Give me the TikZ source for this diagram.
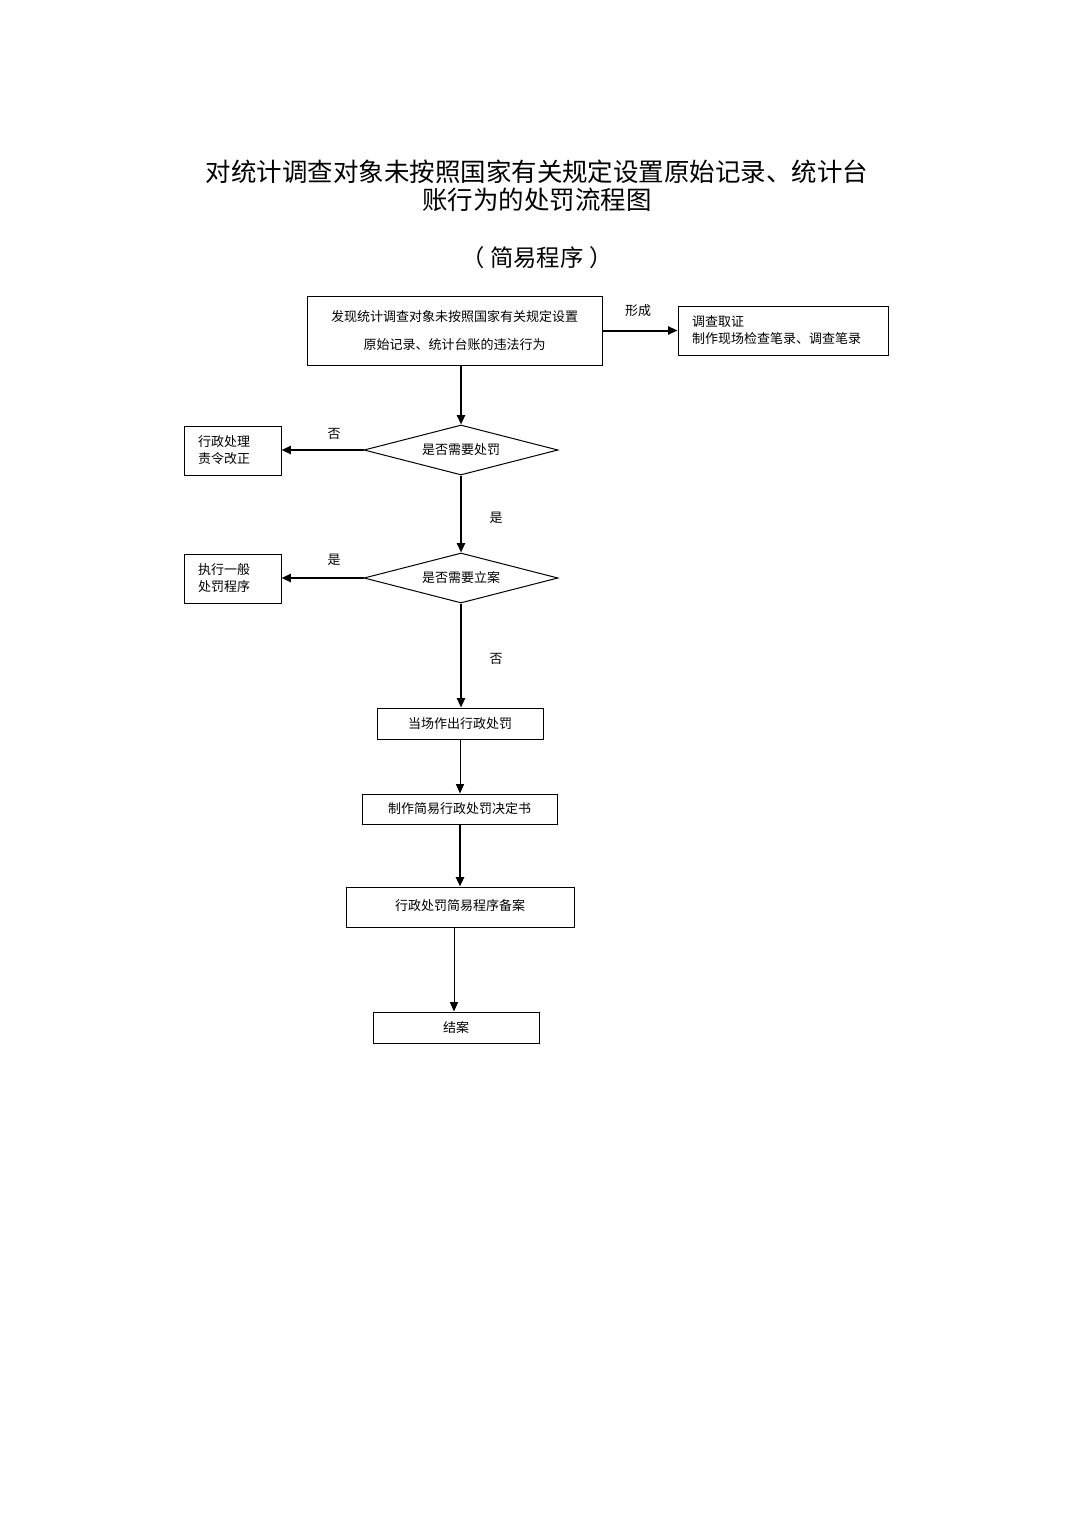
\documentclass[tikz,border=0pt]{standalone}
\usepackage{fontspec}
\setmainfont{Noto Sans CJK SC}
\usetikzlibrary{arrows.meta,shapes.geometric}
\begin{document}
\begin{tikzpicture}[x=0.75pt,y=-0.75pt,
  box/.style={draw,line width=0.75pt,inner sep=0pt,font=\fontsize{9.75pt}{12.75pt}\selectfont,align=center},
  lbox/.style={draw,line width=0.75pt,inner ysep=0pt,inner xsep=10.5pt,font=\fontsize{9.75pt}{12.75pt}\selectfont,align=left},
  dia/.style={draw,line width=0.75pt,diamond,aspect=3.88,inner sep=0pt,minimum width=145.5pt,minimum height=37.5pt,font=\fontsize{9.75pt}{12pt}\selectfont},
  lab/.style={font=\fontsize{9.75pt}{12pt}\selectfont,inner sep=0pt},
  thk/.style={line width=1.5pt,-{Triangle[length=7pt,width=6pt]}},
  thn/.style={line width=0.75pt,-{Triangle[length=7pt,width=6pt]}}]
\useasboundingbox (0,0) rectangle (1075,1520);
\node[inner sep=0pt,align=center,font=\fontsize{19.1pt}{21pt}\selectfont] (title) at (537,186) {对统计调查对象未按照国家有关规定设置原始记录、统计台\\账行为的处罚流程图};
\node[inner sep=0pt,font=\fontsize{17.5pt}{20pt}\selectfont] (sub) at (537,258) {（\kern4pt 简易程序\kern4pt ）};

\node[box,minimum width=221.25pt,minimum height=51.75pt,font=\fontsize{9.75pt}{21pt}\selectfont] (b1) at (454.5,330.5) {发现统计调查对象未按照国家有关规定设置\\原始记录、统计台账的违法行为};
\node[lbox,minimum height=36.75pt,text width=136.5pt] (b2) at (783,330.5) {调查取证\\制作现场检查笔录、调查笔录};
\node[dia] (d1) at (461,450) {是否需要处罚};
\node[lbox,minimum height=36.75pt,text width=51.75pt] (b3) at (232.5,450.5) {行政处理\\责令改正};
\node[dia] (d2) at (461,578) {是否需要立案};
\node[lbox,minimum height=36.75pt,text width=51.75pt] (b4) at (232.5,578.5) {执行一般\\处罚程序};
\node[box,minimum width=124.5pt,minimum height=23.25pt] (b5) at (460,723.5) {当场作出行政处罚};
\node[box,minimum width=146.25pt,minimum height=22.5pt] (b6) at (459.5,809) {制作简易行政处罚决定书};
\node[box,minimum width=171pt,minimum height=30pt,text height=9pt,text depth=4.5pt] (b7) at (460,907) {行政处罚简易程序备案};
\node[box,minimum width=124.5pt,minimum height=23.25pt] (b8) at (456,1027.5) {结案};

\draw[thk] (b1.east |- b2.west) -- (b2.west);
\node[lab] (l1) at (638,311) {形成};
\draw[thk] (b1.south -| d1.north) -- (d1.north);
\draw[thk] (d1.west) -- (b3.east |- d1.west);
\node[lab] (l2) at (334,434) {否};
\draw[thk] (d1.south) -- (d2.north);
\node[lab] (l3) at (496,518) {是};
\draw[thk] (d2.west) -- (b4.east |- d2.west);
\node[lab] (l4) at (334,560) {是};
\draw[thk] (d2.south) -- (d2.south |- b5.north);
\node[lab] (l5) at (496,659) {否};
\draw[thn] (b5.south) -- (b5.south |- b6.north);
\draw[thk] (b6.south -| b7.north) -- (b7.north);
\draw[thn] (b7.south -| 454,0) -- (b8.north -| 454,0);
\end{tikzpicture}
\end{document}
